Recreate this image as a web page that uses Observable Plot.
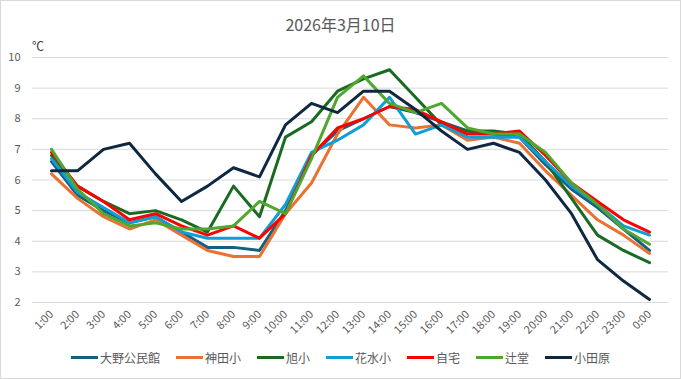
<!DOCTYPE html>
<html>
<head>
<meta charset="utf-8">
<script src="https://cdn.jsdelivr.net/npm/d3@7"></script>
<script src="https://cdn.jsdelivr.net/npm/@observablehq/plot@0.6"></script>
<style>
  html, body { margin: 0; padding: 0; background: #fff; }
  #wrap { position: relative; width: 681px; height: 379px; overflow: hidden;
    font-family: "Noto Sans CJK JP", "Noto Sans", sans-serif; }
  #border { position: absolute; left: 0; top: 0; width: 679px; height: 377px; border: 1px solid #d9d9d9; }
  #title { position: absolute; left: 0; top: 12px; width: 681px; text-align: center;
    font-size: 16px; color: #595959; }
  #unit { position: absolute; left: 32px; top: 37px; font-size: 12px; color: #404040; }
  #plot { position: absolute; left: 0; top: 0; }
  #legend { position: absolute; left: 0; top: 349px; width: 681px; display: flex;
    justify-content: center; align-items: center; font-size: 12px; color: #595959; }
  .item { display: flex; align-items: center; margin: 0 8px; }
  .sw { width: 27px; height: 3px; margin-right: 2px; }
</style>
</head>
<body>
<div id="wrap">
  <div id="border"></div>
  <div id="plot"></div>
  <div id="title">2026年3月10日</div>
  <div id="unit">℃</div>
  <div id="legend"></div>
</div>
<script>
const hours = ["1:00","2:00","3:00","4:00","5:00","6:00","7:00","8:00","9:00","10:00","11:00","12:00",
  "13:00","14:00","15:00","16:00","17:00","18:00","19:00","20:00","21:00","22:00","23:00","0:00"];

const seriesNames = ["大野公民館","神田小","旭小","花水小","自宅","辻堂","小田原"];
const seriesColors = ["#156082","#E97132","#196B24","#0F9ED5","#FF0000","#4EA72E","#0E2841"];

const oono     = [6.6,5.5,5.0,4.6,4.8,4.3,3.8,3.8,3.7,5.0,6.8,7.6,8.0,8.4,8.2,7.9,7.6,7.5,7.4,6.5,5.7,5.1,4.4,3.7];
const kanda    = [6.2,5.4,4.8,4.4,4.7,4.2,3.7,3.5,3.5,4.9,5.9,7.5,8.7,7.8,7.7,7.8,7.3,7.4,7.2,6.3,5.5,4.7,4.2,3.6];
const asahi    = [6.8,5.8,5.3,4.9,5.0,4.7,4.3,5.8,4.8,7.4,7.9,8.9,9.3,9.6,8.7,7.8,7.6,7.6,7.5,6.6,5.4,4.2,3.7,3.3];
const hanamizu = [6.7,5.6,5.1,4.6,4.8,4.3,4.1,4.1,4.1,5.2,6.9,7.3,7.8,8.7,7.5,7.8,7.4,7.4,7.4,6.6,5.8,5.2,4.5,4.2];
const jitaku   = [6.9,5.8,5.3,4.7,4.9,4.5,4.2,4.5,4.1,4.9,6.8,7.7,8.0,8.4,8.3,7.9,7.5,7.5,7.6,6.8,5.9,5.3,4.7,4.3];
const tsujido  = [7.0,5.7,4.9,4.5,4.6,4.4,4.4,4.5,5.3,4.9,6.7,8.7,9.4,8.5,8.2,8.5,7.7,7.5,7.5,6.9,5.9,5.2,4.4,3.9];
const odawara  = [6.3,6.3,7.0,7.2,6.2,5.3,5.8,6.4,6.1,7.8,8.5,8.2,8.9,8.9,8.3,7.6,7.0,7.2,6.9,6.0,4.9,3.4,2.7,2.1];

const yTicks = [2,3,4,5,6,7,8,9,10];

const allSeries = [oono, kanda, asahi, hanamizu, jitaku, tsujido, odawara];
const rows = [];
allSeries.forEach((vals, si) => {
  vals.forEach((v, i) => rows.push({hour: hours[i], temp: v, name: seriesNames[si]}));
});

const chart = Plot.plot({
  width: 681,
  height: 345,
  marginTop: 57,
  marginBottom: 43,
  marginLeft: 32,
  marginRight: 13,
  style: {fontFamily: '"Noto Sans CJK JP", "Noto Sans", sans-serif', fontSize: "11px", color: "#595959", background: "transparent"},
  x: {type: "point", domain: hours, padding: 0.5, label: null},
  y: {domain: [2, 10], label: null},
  color: {domain: seriesNames, range: seriesColors},
  marks: [
    Plot.gridY(yTicks, {stroke: "#d9d9d9", strokeOpacity: 1, strokeWidth: 1}),
    Plot.axisY(yTicks, {tickSize: 0, tickPadding: 12, label: null, fontSize: 11}),
    Plot.axisX({tickSize: 0, tickPadding: 10, tickRotate: -45, label: null, fontSize: 11}),
    Plot.line(rows, {x: "hour", y: "temp", z: "name", stroke: "name", strokeWidth: 3, strokeLinejoin: "round", strokeLinecap: "round"})
  ]
});
document.getElementById("plot").appendChild(chart);

const legend = document.getElementById("legend");
seriesNames.forEach((n, i) => {
  const it = document.createElement("div");
  it.className = "item";
  const sw = document.createElement("div");
  sw.className = "sw";
  sw.style.background = seriesColors[i];
  const t = document.createElement("span");
  t.textContent = n;
  it.appendChild(sw);
  it.appendChild(t);
  legend.appendChild(it);
});
</script>
</body>
</html>
